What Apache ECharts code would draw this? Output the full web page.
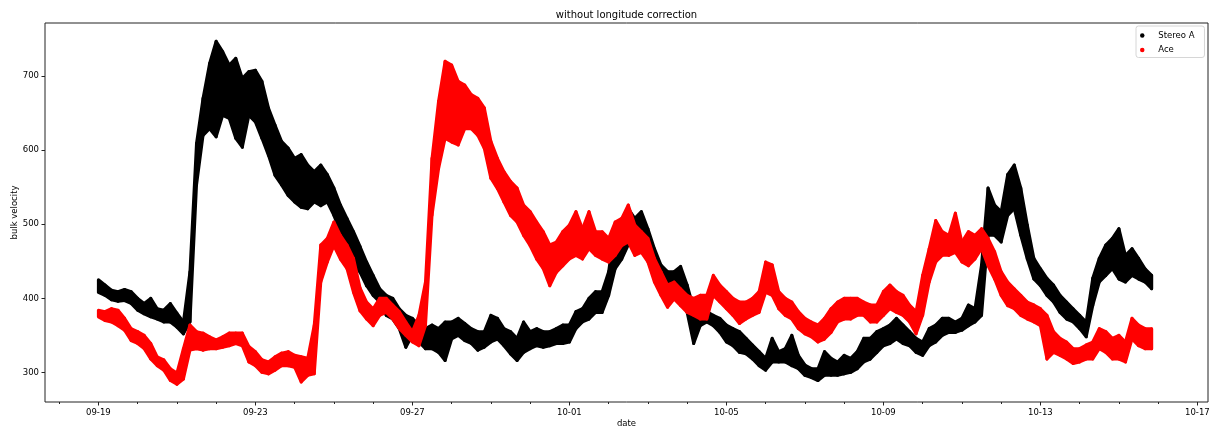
<!DOCTYPE html>
<html>
<head>
<meta charset="utf-8">
<script src="https://cdn.jsdelivr.net/npm/echarts@6/dist/echarts.min.js"></script>
<style>
  html, body { margin: 0; padding: 0; background: #fff; }
  #chart { width: 1211px; height: 428px; }
</style>
</head>
<body>
<div id="chart"></div>
<script>
// Solar wind bulk velocity, one sample every 4 hours from 09-19 00:00 UTC.
// Each sample keeps the lower and upper edge of the measurement spread.
const startUTC = Date.UTC(2020, 8, 19);
const stepHours = 4;

const stereoHigh = [
  425,418,411,409,412,409,400,393,400,386,
  384,393,380,368,436,609,670,717,747,733,
  715,724,697,706,708,693,657,634,612,603,
  589,594,580,571,580,567,549,526,508,490,
  470,449,431,413,404,400,386,377,373,364,
  359,364,359,368,368,373,366,359,355,355,
  377,373,359,355,346,368,355,359,355,355,
  359,364,364,382,386,400,409,409,436,499,
  503,521,508,517,494,467,445,436,436,443,
  418,386,386,382,377,373,364,359,355,346,
  337,328,319,346,328,332,350,323,310,305,
  305,328,319,314,323,319,328,346,346,355,
  359,364,373,364,355,346,341,359,364,373,
  373,368,373,391,386,445,549,526,517,567,
  580,549,499,454,440,427,418,404,395,386,
  377,368,427,454,472,481,494,458,467,454,
  440,431
];
const stereoLow = [
  408,404,398,396,397,393,384,379,375,372,
  368,368,361,352,368,553,620,629,618,647,
  643,616,604,647,638,616,593,566,553,539,
  530,523,521,530,525,530,512,489,471,449,
  435,417,404,395,377,372,359,334,350,341,
  332,332,327,316,345,350,343,339,330,334,
  341,345,336,325,316,327,332,336,334,336,
  339,339,341,359,368,372,381,381,404,440,
  453,472,476,485,462,440,408,390,404,408,
  381,339,363,368,363,354,341,336,327,325,
  318,309,303,314,314,314,309,305,296,293,
  289,296,296,296,298,300,305,314,318,327,
  336,339,345,339,336,327,323,336,341,350,
  354,354,357,363,368,377,485,485,476,512,
  521,485,453,426,417,404,395,381,372,368,
  359,348,390,422,431,440,426,422,431,426,
  422,413
];
const aceHigh = [
  384,382,386,384,373,359,355,350,339,321,
  317,305,299,332,364,355,353,348,344,348,
  353,353,353,335,328,317,314,321,326,328,
  323,321,319,364,472,481,503,485,472,454,
  414,395,386,400,400,391,382,368,355,377,
  422,589,666,720,715,693,688,675,670,657,
  612,589,571,558,549,526,517,503,490,472,
  476,490,499,517,494,517,490,490,481,503,
  508,526,499,490,481,454,436,418,422,413,
  404,400,404,404,431,418,409,400,395,395,
  400,409,449,445,409,400,395,382,373,368,
  364,373,386,395,400,400,400,395,391,391,
  409,418,409,404,391,382,431,467,505,490,
  485,515,476,490,485,494,481,463,436,422,
  413,404,395,391,386,377,355,346,341,332,
  332,337,341,359,355,346,350,341,373,364,
  359,359
];
const aceLow = [
  375,370,368,363,357,343,339,332,318,309,
  303,289,284,291,330,332,330,332,332,334,
  336,339,336,314,309,300,298,303,309,309,
  307,287,296,298,422,449,471,453,440,408,
  383,372,363,377,381,372,359,350,341,336,
  363,512,575,616,611,607,629,629,620,602,
  562,548,530,512,503,485,471,453,440,417,
  435,444,453,458,453,467,458,453,449,458,
  471,476,458,462,449,422,404,388,399,390,
  381,377,372,372,404,395,386,377,366,372,
  377,381,408,404,386,377,372,359,352,348,
  341,345,354,368,372,372,377,377,368,368,
  377,386,381,377,368,352,377,422,449,458,
  458,462,449,444,453,467,444,426,404,390,
  386,377,372,368,363,318,327,323,318,312,
  314,318,318,332,327,318,318,314,345,336,
  332,332
];

// Axis ticks: day offsets from the start date, and velocity ticks.
const majorTickDays = [0, 4, 8, 12, 16, 20, 24, 28];
const minorTickDays = [-1,0,1,2,3,4,5,6,7,8,9,10,11,12,13,14,15,16,17,18,19,20,21,22,23,24,25,26,27,28];
const velocityTicks = [300, 400, 500, 600, 700];

const DAY = 86400000;
const times = stereoLow.map((_, i) => startUTC + i * stepHours * 3600000);
const xMin = startUTC - 1.36 * DAY;
const xMax = startUTC + 28.27 * DAY;
const font = 'DejaVu Sans';

function mmdd(v) {
  const d = new Date(v);
  return String(d.getUTCMonth() + 1).padStart(2, '0') + '-' + String(d.getUTCDate()).padStart(2, '0');
}

// A filled band between consecutive samples, with rounded edges like dense dots.
function bandSeries(name, low, high, color) {
  return {
    name: name,
    type: 'custom',
    coordinateSystem: 'cartesian2d',
    xAxisIndex: 0,
    yAxisIndex: 0,
    itemStyle: { color: color },
    encode: { x: 0, y: [1, 2] },
    data: times.map((t, i) => [t, low[i], high[i]]),
    renderItem: function (params, api) {
      const i = params.dataIndex;
      const j = Math.min(i + 1, times.length - 1);
      const pts = [
        api.coord([api.value(0), api.value(2)]),
        api.coord([times[j], high[j]]),
        api.coord([times[j], low[j]]),
        api.coord([api.value(0), api.value(1)])
      ];
      return {
        type: 'polygon',
        shape: { points: pts },
        style: { fill: color, stroke: color, lineWidth: 3, lineJoin: 'round' }
      };
    }
  };
}

const chart = echarts.init(document.getElementById('chart'));
chart.setOption({
  animation: false,
  backgroundColor: '#fff',
  title: {
    text: 'without longitude correction',
    left: 626.5,
    top: 10,
    padding: 0,
    textAlign: 'center',
    textStyle: { fontFamily: font, fontSize: 10, fontWeight: 'normal', color: '#000' }
  },
  legend: {
    data: ['Stereo A', 'Ace'],
    orient: 'vertical',
    left: 1136,
    top: 26,
    icon: 'circle',
    itemWidth: 16,
    itemHeight: 4.5,
    itemGap: 5.5,
    padding: [5, 10, 3, 4],
    borderColor: '#d6d6d6',
    borderWidth: 1,
    borderRadius: 2.5,
    backgroundColor: 'rgba(255,255,255,0.8)',
    textStyle: { fontFamily: font, fontSize: 8.5, color: '#000', padding: [0, 0, 0, 3] },
    selectedMode: false
  },
  grid: {
    left: 45, right: 3, top: 23, bottom: 26,
    outerBoundsMode: 'none',
    show: true, borderColor: '#222', borderWidth: 1, backgroundColor: 'transparent',
    containLabel: false
  },
  xAxis: [
    {
      type: 'value',
      min: xMin, max: xMax,
      name: 'date',
      nameLocation: 'middle',
      nameGap: 17,
      nameMoveOverlap: false,
      nameTextStyle: { fontFamily: font, fontSize: 8.5, color: '#000' },
      axisLine: { show: false },
      splitLine: { show: false },
      axisTick: {
        show: true, length: 3.5, lineStyle: { color: '#222', width: 1 },
        customValues: majorTickDays.map(d => startUTC + d * DAY)
      },
      axisLabel: {
        show: true, margin: 6, fontFamily: font, fontSize: 8.5, color: '#000',
        customValues: majorTickDays.map(d => startUTC + d * DAY),
        formatter: mmdd
      }
    },
    {
      type: 'value',
      min: xMin, max: xMax,
      position: 'bottom',
      axisLine: { show: false },
      splitLine: { show: false },
      axisLabel: { show: false },
      axisTick: {
        show: true, length: 2, lineStyle: { color: '#222', width: 1 },
        customValues: minorTickDays.map(d => startUTC + d * DAY)
      }
    }
  ],
  yAxis: {
    type: 'value',
    min: 260,
    max: 771.7,
    name: 'bulk velocity',
    nameLocation: 'middle',
    nameGap: 26,
    nameMoveOverlap: false,
    nameTextStyle: { fontFamily: font, fontSize: 8.5, color: '#000' },
    axisLine: { show: false },
    splitLine: { show: false },
    axisTick: {
      show: true, length: 3.5, lineStyle: { color: '#222', width: 1 },
      customValues: velocityTicks
    },
    axisLabel: {
      show: true, margin: 6, fontFamily: font, fontSize: 8.5, color: '#000',
      customValues: velocityTicks
    }
  },
  series: [
    bandSeries('Stereo A', stereoLow, stereoHigh, '#000000'),
    bandSeries('Ace', aceLow, aceHigh, '#ff0000')
  ]
});
</script>
</body>
</html>
